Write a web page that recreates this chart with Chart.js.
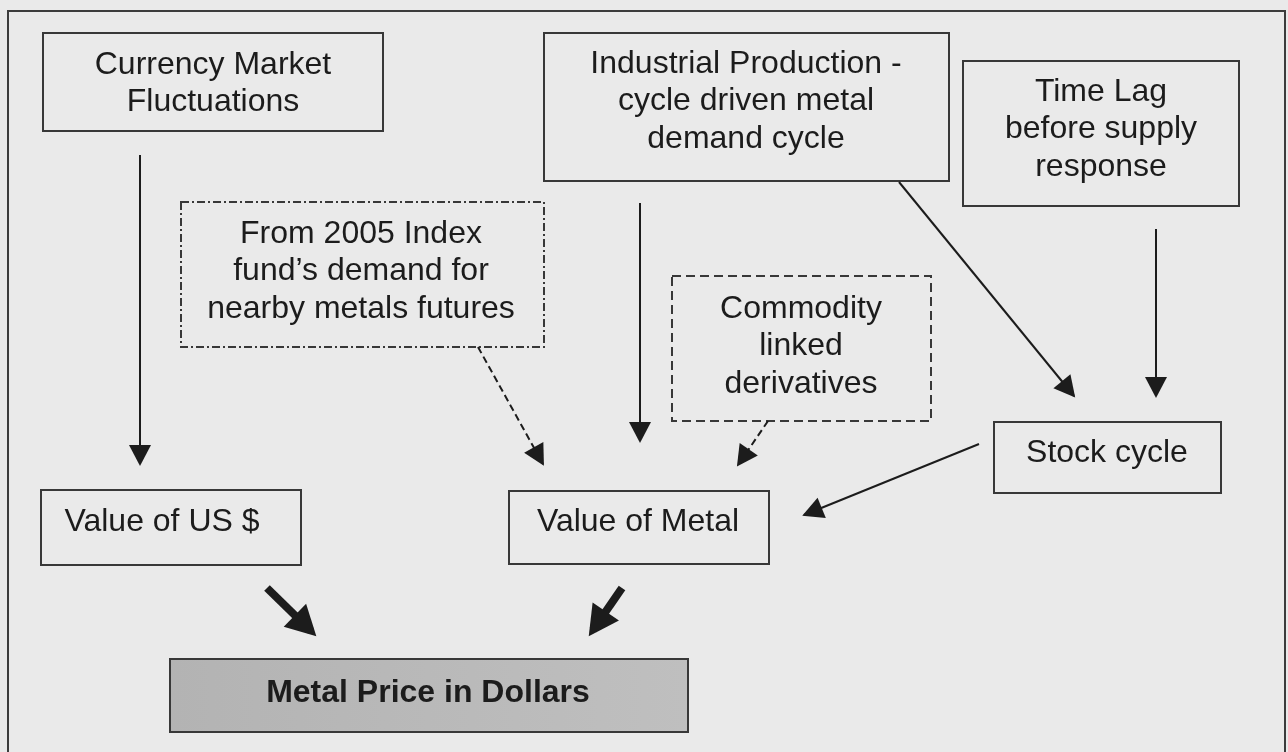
<!DOCTYPE html>
<html>
<head>
<meta charset="utf-8">
<title>Metal price drivers</title>
<script src="https://cdn.jsdelivr.net/npm/chart.js@4/dist/chart.umd.min.js"></script>
<style>
  html, body { margin: 0; padding: 0; background: #eaeaea; }
  #wrap { width: 1288px; height: 752px; position: relative; }
</style>
</head>
<body>
<div id="wrap"><canvas id="diagram"></canvas></div>
<script>
// boxes of the diagram, in figure units (x to the right, y downwards)
const nodeText = [
  ['Currency Market', 'Fluctuations'],
  ['Industrial Production -', 'cycle driven metal', 'demand cycle'],
  ['Time Lag', 'before supply', 'response'],
  ['From 2005 Index', 'fund\u2019s demand for', 'nearby metals futures'],
  ['Commodity', 'linked', 'derivatives'],
  ['Stock cycle'],
  ['Value of US $'],
  ['Value of Metal'],
  ['Metal Price in Dollars']
];
const nodeLeft   = [43, 544, 963, 181, 672, 994, 41, 509, 170];
const nodeRight  = [383, 949, 1239, 544, 931, 1221, 301, 769, 688];
const nodeTop    = [33, 33, 61, 202, 276, 422, 490, 491, 659];
const nodeBottom = [131, 181, 206, 347, 421, 493, 565, 564, 732];
const nodeTextX  = [213, 746, 1101, 361, 801, 1107, 162, 638, 428];
const nodeTextY  = [65, 64, 92, 234, 309, 453, 522, 522, 693];
const nodeBorder = ['solid', 'solid', 'solid', 'dashdot', 'dash', 'solid', 'solid', 'solid', 'result'];

// arrows: start of the shaft and end of the shaft (the head sits on the end)
const arrowFromX = [140, 478, 640, 899, 1156, 768, 979, 267, 622];
const arrowFromY = [155, 347, 203, 182, 229, 421, 444, 588, 588];
const arrowToX   = [140, 543, 640, 1074, 1156, 738, 804, 311, 593];
const arrowToY   = [464, 464, 441, 396, 396, 465, 515, 631, 630];
const arrowKind  = ['solid', 'dash', 'solid', 'solid', 'solid', 'dash', 'solid', 'bold', 'bold'];

const FONT = '"Liberation Sans", Arial, Helvetica, sans-serif';

const datasets = arrowKind.map((kind, i) => ({
  label: 'arrow ' + (i + 1),
  data: [{x: arrowFromX[i], y: arrowFromY[i]}, {x: arrowToX[i], y: arrowToY[i]}],
  showLine: true,
  fill: false,
  borderColor: '#1c1c1c',
  borderWidth: kind === 'bold' ? 8 : 2,
  borderDash: kind === 'dash' ? [7, 4] : [],
  borderCapStyle: 'butt',
  pointRadius: 0,
  pointHoverRadius: 0
}));

const diagramPlugin = {
  id: 'diagram',
  beforeDatasetsDraw(chart) {
    const ctx = chart.ctx;
    const {x, y} = chart.scales;
    ctx.save();

    // outer frame (open at the bottom, as in the scan)
    ctx.strokeStyle = '#3c3c3c';
    ctx.lineWidth = 2;
    ctx.beginPath();
    ctx.moveTo(x.getPixelForValue(8), y.getPixelForValue(760));
    ctx.lineTo(x.getPixelForValue(8), y.getPixelForValue(11));
    ctx.lineTo(x.getPixelForValue(1285), y.getPixelForValue(11));
    ctx.lineTo(x.getPixelForValue(1285), y.getPixelForValue(760));
    ctx.stroke();

    nodeText.forEach((lines, i) => {
      const l = x.getPixelForValue(nodeLeft[i]);
      const r = x.getPixelForValue(nodeRight[i]);
      const t = y.getPixelForValue(nodeTop[i]);
      const b = y.getPixelForValue(nodeBottom[i]);
      const style = nodeBorder[i];

      if (style === 'result') {
        const g = ctx.createLinearGradient(l, 0, r, 0);
        g.addColorStop(0, '#b3b3b3');
        g.addColorStop(1, '#bfbfbf');
        ctx.fillStyle = g;
        ctx.fillRect(l, t, r - l, b - t);
      }
      ctx.strokeStyle = '#383838';
      ctx.lineWidth = 2;
      if (style === 'dashdot') ctx.setLineDash([8, 3, 2, 3]);
      else if (style === 'dash') ctx.setLineDash([9, 5]);
      else ctx.setLineDash([]);
      ctx.strokeRect(l, t, r - l, b - t);
      ctx.setLineDash([]);

      ctx.fillStyle = '#1c1c1c';
      ctx.font = (style === 'result' ? 'bold ' : '') + '32px ' + FONT;
      ctx.textAlign = 'center';
      ctx.textBaseline = 'middle';
      const cx = x.getPixelForValue(nodeTextX[i]);
      lines.forEach((txt, k) => {
        ctx.fillText(txt, cx, y.getPixelForValue(nodeTextY[i] + k * 37.5));
      });
    });
    ctx.restore();
  },
  afterDatasetsDraw(chart) {
    const ctx = chart.ctx;
    ctx.save();
    chart.data.datasets.forEach((ds, i) => {
      const pts = chart.getDatasetMeta(i).data;
      const a = pts[0], b = pts[1];
      const dx = b.x - a.x, dy = b.y - a.y;
      const len = Math.hypot(dx, dy);
      const ux = dx / len, uy = dy / len;
      const bold = arrowKind[i] === 'bold';
      const headLen = bold ? 30 : 21;
      const headHalf = bold ? 16 : 11;
      // push the tip forward so the shaft end stays inside the head
      const over = (ds.borderWidth / 2) * headLen / headHalf;
      const tx = b.x + ux * over, ty = b.y + uy * over;
      const bx = tx - ux * headLen, by = ty - uy * headLen;
      ctx.fillStyle = '#1c1c1c';
      ctx.beginPath();
      ctx.moveTo(tx, ty);
      ctx.lineTo(bx - uy * headHalf, by + ux * headHalf);
      ctx.lineTo(bx + uy * headHalf, by - ux * headHalf);
      ctx.closePath();
      ctx.fill();
    });
    ctx.restore();
  }
};

new Chart(document.getElementById('diagram'), {
  type: 'scatter',
  data: { datasets: datasets },
  options: {
    responsive: true,
    maintainAspectRatio: false,
    animation: false,
    events: [],
    layout: { padding: 0 },
    scales: {
      x: { type: 'linear', min: 0, max: 1288, display: false },
      y: { type: 'linear', min: 0, max: 752, reverse: true, display: false }
    },
    plugins: {
      legend: { display: false },
      tooltip: { enabled: false }
    }
  },
  plugins: [diagramPlugin]
});
</script>
</body>
</html>
